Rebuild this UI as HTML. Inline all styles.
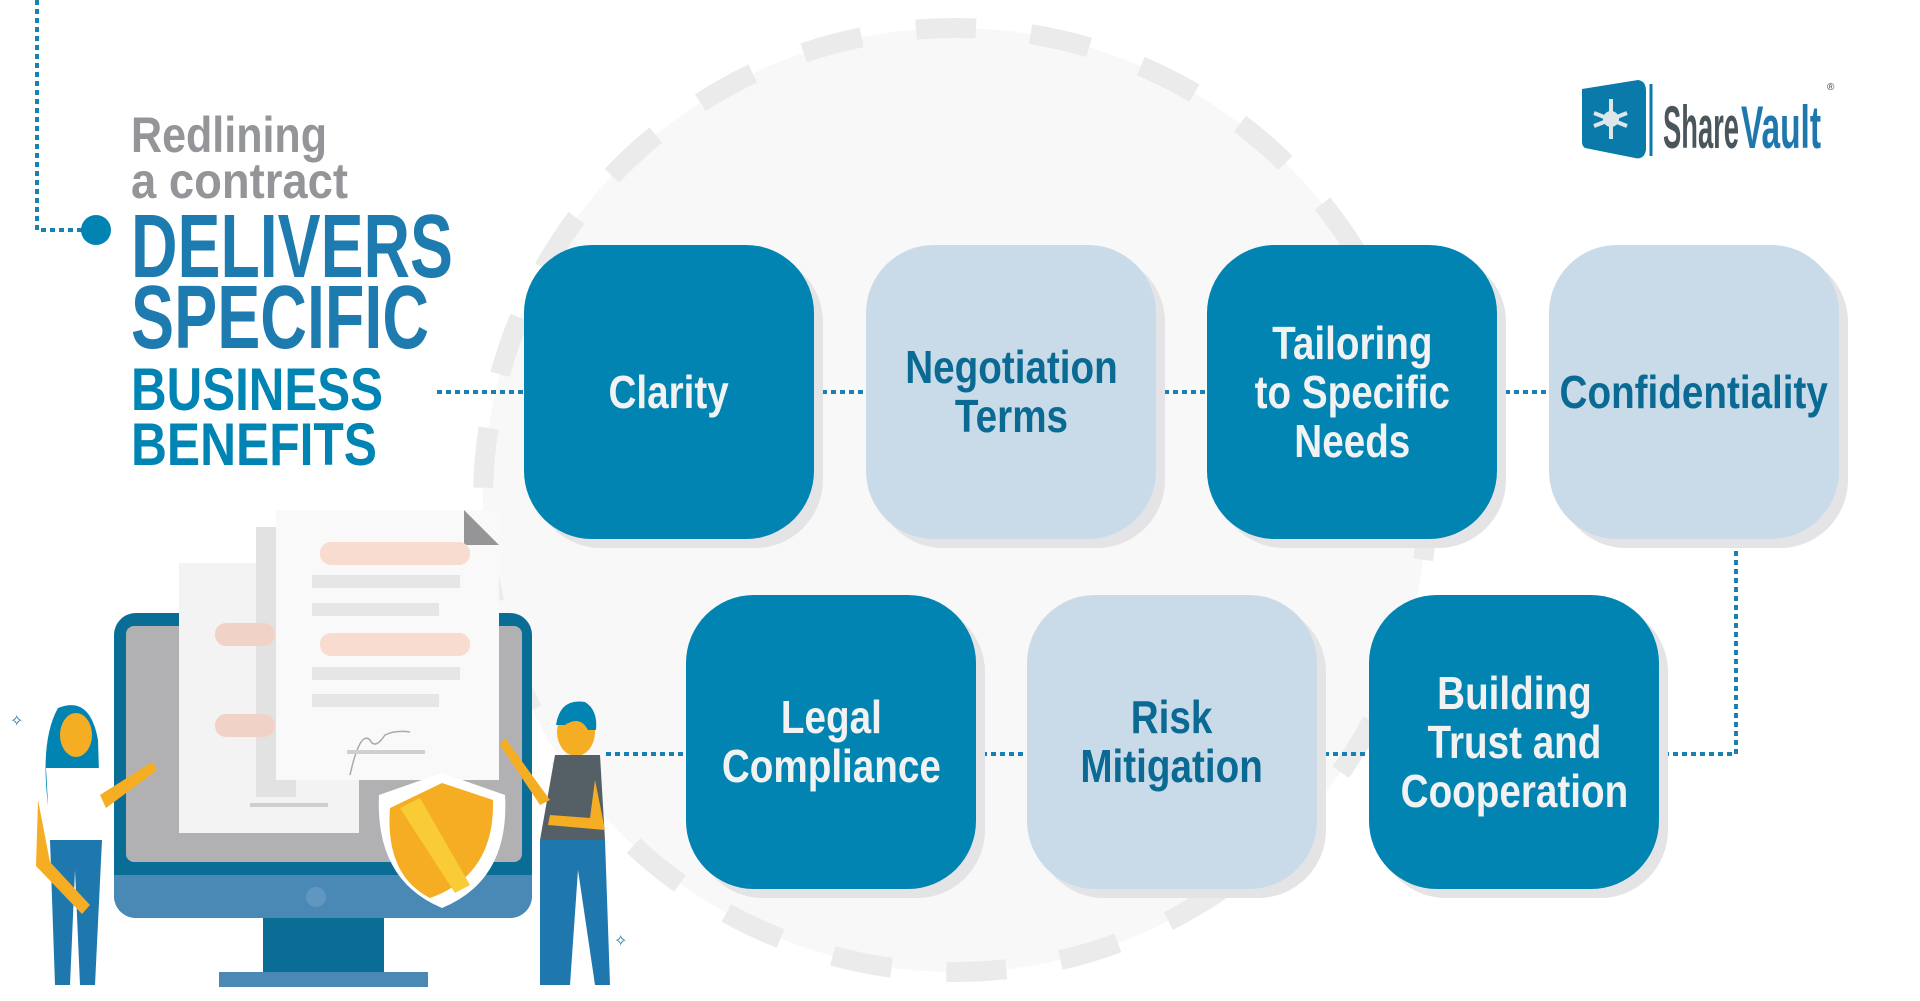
<!DOCTYPE html>
<html><head><meta charset="utf-8"><style>
html,body{margin:0;padding:0;background:#fff;}
body{width:1920px;height:1001px;position:relative;overflow:hidden;font-family:"Liberation Sans",sans-serif;}
.box{position:absolute;width:290px;height:294px;border-radius:68px;display:flex;align-items:center;justify-content:center;text-align:center;font-weight:bold;font-size:46px;line-height:49px;box-shadow:9px 9px 0 #e4e4e6;}
.box span{display:inline-block;transform:scaleX(0.84);white-space:nowrap;}
.d{background:#0284b3;color:#f2f2f2;}
.l{background:#c9dbe8;color:#0a6a93;}
</style></head><body>
<svg width="1920" height="1001" style="position:absolute;left:0;top:0">
<circle cx="955" cy="500" r="472" fill="#f8f8f8"/>
<circle cx="955" cy="500" r="472" fill="none" stroke="#ebebeb" stroke-width="20" stroke-dasharray="60 55"/>
<g stroke="#1a7fb3" stroke-width="4" stroke-dasharray="5 4" fill="none">
<path d="M37 0 V230 H84"/>
<path d="M437 392 H524"/>
<path d="M822 392 H866"/>
<path d="M1164 392 H1207"/>
<path d="M1505 392 H1549"/>
<path d="M1736 551 V754 H1668"/>
<path d="M1324 754 H1369"/>
<path d="M982 754 H1027"/>
<path d="M606 754 H686"/>
</g>
<circle cx="96" cy="230" r="15" fill="#0284b3"/>
<g font-family="Liberation Sans,sans-serif" font-weight="bold">
<text x="131" y="152" font-size="50" fill="#939598" textLength="196" lengthAdjust="spacingAndGlyphs">Redlining</text>
<text x="131" y="198" font-size="50" fill="#939598" textLength="217" lengthAdjust="spacingAndGlyphs">a contract</text>
<text x="131" y="277" font-size="90" fill="#1e7bb0" textLength="322" lengthAdjust="spacingAndGlyphs">DELIVERS</text>
<text x="131" y="348" font-size="90" fill="#1e7bb0" textLength="298" lengthAdjust="spacingAndGlyphs">SPECIFIC</text>
<text x="131" y="410" font-size="60" fill="#0084b4" textLength="252" lengthAdjust="spacingAndGlyphs">BUSINESS</text>
<text x="131" y="465" font-size="60" fill="#0084b4" textLength="246" lengthAdjust="spacingAndGlyphs">BENEFITS</text>
</g>
<!-- monitor -->
<rect x="114" y="613" width="418" height="305" rx="22" fill="#0a6d96"/>
<path d="M114 875 H532 V896 a22 22 0 0 1 -22 22 H136 a22 22 0 0 1 -22 -22Z" fill="#4a89b5"/>
<rect x="126" y="626" width="396" height="236" rx="8" fill="#b1b1b3"/>
<rect x="263" y="918" width="121" height="54" fill="#0a6d96"/>
<rect x="219" y="972" width="209" height="15" fill="#4a89b5"/>
<circle cx="316" cy="897" r="10" fill="#5f97c0"/>
<!-- docs -->
<rect x="179" y="563" width="180" height="270" fill="#f3f3f3"/>
<rect x="256" y="527" width="40" height="270" fill="#e2e2e2"/>
<rect x="276" y="510" width="223" height="270" fill="#f9f9f9"/>
<path d="M464 510 L499 545 H464Z" fill="#959597"/>
<rect x="320" y="542" width="150" height="23" rx="11" fill="#f7dccf"/>
<rect x="312" y="575" width="148" height="13" fill="#e6e6e7"/>
<rect x="312" y="603" width="127" height="13" fill="#e6e6e7"/>
<rect x="320" y="633" width="150" height="23" rx="11" fill="#f7dccf"/>
<rect x="312" y="667" width="148" height="13" fill="#e6e6e7"/>
<rect x="312" y="694" width="127" height="13" fill="#e6e6e7"/>
<rect x="215" y="623" width="60" height="23" rx="11" fill="#f0d3c6"/>
<rect x="215" y="714" width="60" height="23" rx="11" fill="#f0d3c6"/>
<path d="M350 775 Q360 730 370 740 Q375 750 385 735 Q395 730 410 732" stroke="#aaa" stroke-width="1.5" fill="none"/>
<rect x="347" y="750" width="78" height="4" fill="#cfcfcf"/>
<rect x="250" y="803" width="78" height="4" fill="#cfcfcf"/>
<!-- shield -->
<path d="M442 773 L505 795 Q510 880 442 908 Q375 880 379 795Z" fill="#fff"/>
<path d="M442 783 L493 800 Q495 875 430 898 Q385 875 390 808Z" fill="#f5ae23"/>
<path d="M400 808 L420 798 L470 885 L455 893Z" fill="#f9cb35"/>
<!-- woman -->
<path d="M58 708 Q90 695 98 740 L100 805 L48 805 Q40 740 58 708Z" fill="#0284b3"/>
<ellipse cx="76" cy="735" rx="16" ry="22" fill="#f5ae23"/>
<path d="M46 768 H100 L102 840 H50Z" fill="#fff"/>
<path d="M50 840 H102 L95 985 H80 L75 870 L70 985 H55Z" fill="#1e78ae"/>
<path d="M100 795 L152 762 L157 770 L106 808Z" fill="#f5ae23"/>
<path d="M38 800 L50 862 L90 905 L82 914 L36 866Z" fill="#f5ae23"/>
<!-- man -->
<ellipse cx="576" cy="732" rx="19" ry="24" fill="#f5ae23"/>
<path d="M556 725 Q560 698 585 702 Q598 710 596 730 L588 730 Q580 715 565 725Z" fill="#0284b3"/>
<path d="M555 755 H600 L605 840 H540Z" fill="#555f66"/>
<path d="M540 840 H605 L610 985 H595 L578 870 L570 985 H540Z" fill="#1e78ae"/>
<path d="M505 738 L550 800 L540 805 L500 745Z" fill="#f5ae23"/>
<path d="M595 780 L605 830 L548 825 L550 815 L590 818Z" fill="#f5ae23"/>
<text x="10" y="726" fill="#1e78ae" font-size="16">✧</text>
<text x="614" y="946" fill="#1e78ae" font-size="16">✧</text>
<!-- logo -->
<path d="M1582 89 L1638 80 Q1646 81 1646 91 V150 Q1644 160 1635 158 L1585 148 Q1582 146 1582 142Z" fill="#0a7aab"/>
<path d="M1651 84 V156" stroke="#0a7aab" stroke-width="3"/>
<g stroke="#dfe6ea" stroke-width="4"><path d="M1611 99 V139 M1594 113 L1627 126 M1594 126 L1627 113"/></g>
<circle cx="1611" cy="119" r="8" fill="#dfe6ea"/>
<text x="1663" y="148" font-family="Liberation Sans Narrow,Liberation Sans,sans-serif" font-weight="bold" font-size="60" fill="#4a555c" textLength="76" lengthAdjust="spacingAndGlyphs">Share</text>
<text x="1741" y="148" font-family="Liberation Sans Narrow,Liberation Sans,sans-serif" font-weight="bold" font-size="60" fill="#1e78ae" textLength="80" lengthAdjust="spacingAndGlyphs">Vault</text>
<text x="1827" y="90" font-size="10" fill="#444">®</text>
</svg>
<div class="box d" style="left:524px;top:245px"><span>Clarity</span></div>
<div class="box l" style="left:866px;top:245px"><span>Negotiation<br>Terms</span></div>
<div class="box d" style="left:1207px;top:245px"><span>Tailoring<br>to Specific<br>Needs</span></div>
<div class="box l" style="left:1549px;top:245px"><span>Confidentiality</span></div>
<div class="box d" style="left:686px;top:595px"><span>Legal<br>Compliance</span></div>
<div class="box l" style="left:1027px;top:595px"><span>Risk<br>Mitigation</span></div>
<div class="box d" style="left:1369px;top:595px"><span>Building<br>Trust and<br>Cooperation</span></div>
</body></html>
